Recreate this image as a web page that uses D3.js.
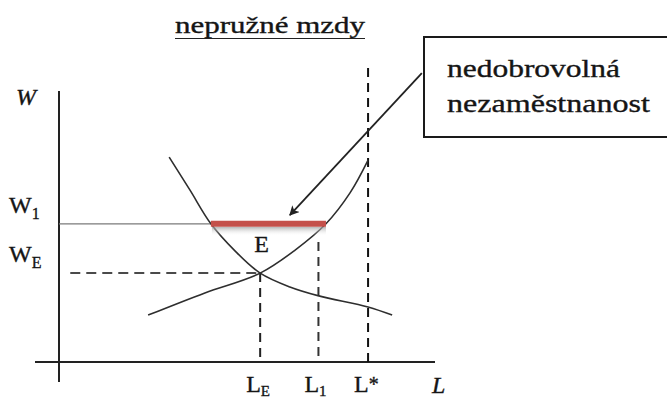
<!DOCTYPE html>
<html>
<head>
<meta charset="utf-8">
<script src="https://cdn.jsdelivr.net/npm/d3@7"></script>
<style>
  html, body { margin: 0; padding: 0; background: #fff; }
  svg { display: block; }
</style>
</head>
<body>
<svg id="chart" width="667" height="398"></svg>
<script>
// Labour market with rigid wages: labour demand, labour supply, equilibrium and the rigid wage W1
const title = "nepružné mzdy";
const calloutLines = ["nedobrovolná", "nezaměstnanost"];

// Key levels (L = labour, W = wage, both on a 0–100 scale)
const L_E = 53.5, L_1 = 69, L_STAR = 82.2;
const W_1 = 51, W_E = 32.8;

// Labour demand (downward sloping)
const demandL = [29.3, 34.8, 40.4, 46.8, 53.5, 61.4, 69.1, 82.2, 88.6];
const demandW = [75.6, 63.5, 51.0, 41.0, 32.8, 27.7, 24.4, 20.3, 17.3];

// Labour supply (upward sloping, steepening)
const supplyL = [23.7, 38.8, 53.5, 62.8, 71.0, 77.4, 82.2];
const supplyW = [17.3, 25.5, 32.8, 41.3, 51.0, 62.4, 74.5];

// Unemployment gap at the rigid wage W1 (from demand to supply)
const gapL = [40.4, 71.0];

// Callout arrow: from the box to the gap
const arrowL = [96.5, 61.4];
const arrowW = [106.6, 54.2];

// Axis labels
const xTickLabels = [{ at: L_E, main: "L", sub: "E" }, { at: L_1, main: "L", sub: "1" }, { at: L_STAR, main: "L", sub: "*" }];
const yTickLabels = [{ at: W_1, main: "W", sub: "1" }, { at: W_E, main: "W", sub: "E" }];

const SERIF = "'Liberation Serif', 'Times New Roman', Tinos, 'DejaVu Serif', serif";
const INK = "#151515";

const svg = d3.select("#chart");
const root = svg.append("g").attr("font-family", SERIF);
const x = d3.scaleLinear().domain([0, 100]).range([59, 435]);
const y = d3.scaleLinear().domain([0, 100]).range([362, 91]);

function label(parent, px, py, size) {
  return parent.append("text")
    .attr("x", px).attr("y", py)
    .attr("font-family", SERIF)
    .attr("font-size", size)
    .attr("fill", INK)
    .attr("stroke", INK).attr("stroke-width", 0.35);
}

// Defs: arrow head, shadow under the gap bar
const defs = svg.append("defs");
defs.append("marker")
  .attr("id", "arrowHead")
  .attr("viewBox", "0 0 10 10")
  .attr("refX", 9).attr("refY", 5)
  .attr("markerWidth", 5.5).attr("markerHeight", 5.5)
  .attr("markerUnits", "strokeWidth")
  .attr("orient", "auto")
  .append("path")
  .attr("d", "M0,0 L10,5 L0,10 L2.5,5 z")
  .attr("fill", "#222");
const grad = defs.append("linearGradient")
  .attr("id", "barShadow").attr("x1", 0).attr("y1", 0).attr("x2", 0).attr("y2", 1);
grad.append("stop").attr("offset", "0%").attr("stop-color", "#9a9a9a").attr("stop-opacity", 0.75);
grad.append("stop").attr("offset", "100%").attr("stop-color", "#ffffff").attr("stop-opacity", 0);

// Title with underline
label(root, 175, 33, 23)
  .attr("textLength", 190).attr("lengthAdjust", "spacingAndGlyphs")
  .text(title);
root.append("line")
  .attr("x1", 175).attr("x2", 365).attr("y1", 38.5).attr("y2", 38.5)
  .attr("stroke", "#222").attr("stroke-width", 1.2);

// Axes
root.append("line")
  .attr("x1", x(0)).attr("x2", x(0))
  .attr("y1", y(100)).attr("y2", y(0) + 20)
  .attr("stroke", "#222").attr("stroke-width", 2);
root.append("line")
  .attr("x1", x(0) - 24).attr("x2", x(100))
  .attr("y1", y(0)).attr("y2", y(0))
  .attr("stroke", "#222").attr("stroke-width", 2);

label(root, 16, 105, 24).attr("font-style", "italic").text("W");
label(root, 432, 393, 24).attr("font-style", "italic").text("L");

// Rigid wage line W1
root.append("line")
  .attr("x1", x(0)).attr("x2", x(gapL[0]))
  .attr("y1", y(W_1)).attr("y2", y(W_1))
  .attr("stroke", "#7a7a7a").attr("stroke-width", 1.3);

// Dashed guide lines
const dashed = root.append("g").attr("fill", "none");
dashed.append("line")
  .attr("x1", x(3)).attr("x2", x(L_E))
  .attr("y1", y(W_E)).attr("y2", y(W_E))
  .attr("stroke", "#4a4a4a").attr("stroke-width", 2).attr("stroke-dasharray", "10,6");
dashed.append("line")
  .attr("x1", x(L_E)).attr("x2", x(L_E))
  .attr("y1", y(W_E)).attr("y2", y(0))
  .attr("stroke", "#222").attr("stroke-width", 2).attr("stroke-dasharray", "9,6");
dashed.append("line")
  .attr("x1", x(L_1)).attr("x2", x(L_1))
  .attr("y1", y(44.3)).attr("y2", y(0))
  .attr("stroke", "#333").attr("stroke-width", 2).attr("stroke-dasharray", "9,6");
dashed.append("line")
  .attr("x1", x(L_STAR)).attr("x2", x(L_STAR))
  .attr("y1", y(108.5)).attr("y2", y(0))
  .attr("stroke", "#111").attr("stroke-width", 2).attr("stroke-dasharray", "9,6");

// Curves
const line = d3.line().x(d => x(d[0])).y(d => y(d[1])).curve(d3.curveCatmullRom.alpha(0.5));
root.append("path")
  .datum(d3.zip(demandL, demandW))
  .attr("d", line)
  .attr("fill", "none").attr("stroke", "#2e2e2e").attr("stroke-width", 1.6);
root.append("path")
  .datum(d3.zip(supplyL, supplyW))
  .attr("d", line)
  .attr("fill", "none").attr("stroke", "#2e2e2e").attr("stroke-width", 1.6);

// Unemployment gap bar at W1 with its soft shadow
root.append("rect")
  .attr("x", x(gapL[0]) + 1).attr("y", y(W_1) + 3)
  .attr("width", x(gapL[1]) - x(gapL[0]) - 1).attr("height", 9)
  .attr("fill", "url(#barShadow)");
root.append("line")
  .attr("x1", x(gapL[0])).attr("x2", x(gapL[1]))
  .attr("y1", y(W_1)).attr("y2", y(W_1))
  .attr("stroke", "#c4504a").attr("stroke-width", 6);

// Equilibrium label
label(root, x(L_E) - 6, 252, 24).text("E");

// Wage tick labels
yTickLabels.forEach(t => {
  const g = label(root, 9, y(t.at) - 11, 24);
  g.append("tspan").text(t.main);
  g.append("tspan").attr("font-size", 16).attr("dy", 6).text(t.sub);
});
// Labour tick labels
xTickLabels.forEach(t => {
  const g = label(root, x(t.at) - 14, 392, 24);
  g.append("tspan").text(t.main);
  if (t.sub === "*") {
    g.append("tspan").attr("font-size", 20).attr("dy", -1).text(t.sub);
  } else {
    g.append("tspan").attr("font-size", 15).attr("dy", 4).text(t.sub);
  }
});

// Callout box
root.append("rect")
  .attr("x", 424).attr("y", 37)
  .attr("width", 260).attr("height", 100)
  .attr("fill", "#fff").attr("stroke", "#1a1a1a").attr("stroke-width", 2);
label(root, 447, 77, 25)
  .attr("textLength", 173).attr("lengthAdjust", "spacingAndGlyphs")
  .text(calloutLines[0]);
label(root, 447, 112, 25)
  .attr("textLength", 203).attr("lengthAdjust", "spacingAndGlyphs")
  .text(calloutLines[1]);

// Callout arrow
root.append("line")
  .attr("x1", x(arrowL[0])).attr("y1", y(arrowW[0]))
  .attr("x2", x(arrowL[1])).attr("y2", y(arrowW[1]))
  .attr("stroke", "#222").attr("stroke-width", 1.8)
  .attr("marker-end", "url(#arrowHead)");
</script>
</body>
</html>
